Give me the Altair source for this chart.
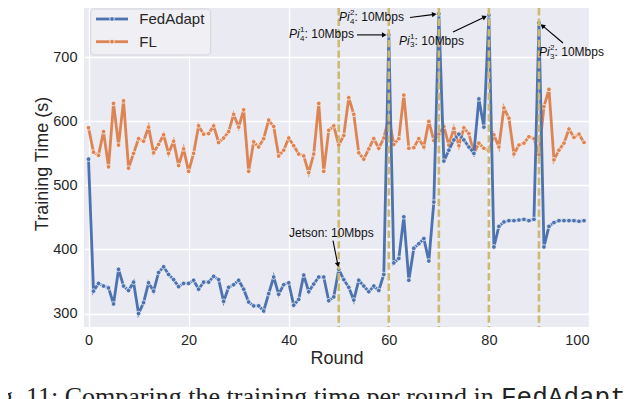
import math
import altair as alt
import pandas as pd

# ---------------- data ----------------
rounds = list(range(100))
fedadapt = [
    541, 335, 347, 343, 340, 315, 369, 343, 336, 349,
    300, 317, 348, 335, 364, 373, 361, 353, 342, 347,
    347, 352, 338, 349, 349, 358, 353, 319, 341, 345,
    352, 338, 318, 312, 312, 304, 331, 357, 330, 345,
    348, 313, 322, 360, 334, 346, 357, 357, 320, 326,
    369, 353, 341, 321, 352, 343, 334, 343, 336, 361,
    735, 379, 386, 451, 352, 402, 409, 417, 382, 474,
    768, 538, 555, 571, 580, 571, 560, 550, 635, 591,
    766, 404, 436, 443, 445, 445, 446, 447, 445, 447,
    754, 404, 436, 442, 445, 445, 445, 445, 444, 445,
]
fl = [
    590, 552, 547, 584, 529, 628, 563, 632, 527, 550,
    573, 569, 591, 551, 564, 579, 550, 569, 531, 557,
    522, 550, 593, 580, 581, 593, 567, 574, 584, 611,
    591, 618, 522, 568, 560, 573, 602, 592, 546, 555,
    574, 562, 549, 546, 520, 549, 628, 522, 586, 593,
    563, 578, 637, 611, 551, 541, 557, 573, 558, 574,
    606, 564, 573, 641, 558, 559, 573, 560, 600, 570,
    580, 592, 563, 589, 562, 590, 581, 550, 566, 558,
    554, 579, 560, 621, 605, 549, 563, 566, 576, 573,
    548, 623, 650, 540, 555, 566, 588, 575, 580, 567,
]
series_names = ["FedAdapt", "FL"]
series_colors = ["#4C72B0", "#DD8452"]
event_rounds = [50, 60, 70, 80, 90]
x_ticks = [0, 20, 40, 60, 80, 100]
y_ticks = [300, 400, 500, 600, 700]

# annotations (text anchors and arrows, in data units)
jetson_text = ["Jetson: 10Mbps"]
jetson_x = [40.06]
jetson_y = [425.8]
pi_sup = ["1", "2", "1", "2"]
pi_sub = ["4", "4", "3", "3"]
pi_x = [40.06, 50.05, 62.04, 90.0]
pi_y = [736.4, 762.2, 725.5, 708.3]
pi_rest = ": 10Mbps"
arrow_from_x = [48.85, 53.65, 64.23, 72.83, 94.8]
arrow_from_y = [414.0, 735.0, 762.2, 739.5, 722.4]
arrow_to_x = [50, 60, 70, 80, 90]
arrow_to_y = [369, 735, 768, 766, 754]

caption_main = "Fig. 11: Comparing the training time per round in"
caption_code = "FedAdapt"

# ---------------- layout ----------------
X_DOM = [-0.9, 100]
Y_DOM = [279, 777]
W, H = 505, 319
FONT = "Liberation Sans"
TXT = "#262626"

px_r = W / (X_DOM[1] - X_DOM[0])
px_v = H / (Y_DOM[1] - Y_DOM[0])

xscale = alt.Scale(domain=X_DOM, nice=False, zero=False)
yscale = alt.Scale(domain=Y_DOM, nice=False, zero=False)
xaxis = alt.Axis(values=x_ticks, title="Round")
yaxis = alt.Axis(values=y_ticks, title="Training Time (s)")


def X(field="round"):
    return alt.X(f"{field}:Q", scale=xscale, axis=xaxis)


def Y(field="value"):
    return alt.Y(f"{field}:Q", scale=yscale, axis=yaxis)


df = pd.DataFrame({
    "round": rounds * 2,
    "value": fedadapt + fl,
    "series": [series_names[0]] * len(rounds) + [series_names[1]] * len(rounds),
})

layers = []
for name, col in [(series_names[1], series_colors[1]), (series_names[0], series_colors[0])]:
    sub = df[df["series"] == name]
    layers.append(alt.Chart(sub).mark_line(color=col, strokeWidth=2.8).encode(x=X(), y=Y()))
    layers.append(alt.Chart(sub).mark_point(filled=True, color=col, size=22, stroke="white",
                                            strokeWidth=0.7, opacity=1).encode(x=X(), y=Y()))

# vertical dashed event lines
ev = pd.DataFrame({"round": event_rounds})
layers.append(alt.Chart(ev).mark_rule(color="#CCB974", strokeWidth=2.6,
                                      strokeDash=[7.4, 3.2]).encode(x=X()))

# arrows
rows = []
for fx, fy, tx, ty in zip(arrow_from_x, arrow_from_y, arrow_to_x, arrow_to_y):
    dxp = (tx - fx) * px_r
    dyp = -(ty - fy) * px_v
    L = math.hypot(dxp, dyp)
    ux, uy = dxp / L, dyp / L
    tip = 2.0
    head = tip + 2.6
    rows.append({
        "round": fx, "value": fy,
        "round2": tx - head * ux / px_r, "value2": ty + head * uy / px_v,
        "hx": tx - head * ux / px_r, "hy": ty + head * uy / px_v,
        "ang": math.degrees(math.atan2(uy, ux)) % 360,
    })
arr = pd.DataFrame(rows)
layers.append(alt.Chart(arr).mark_rule(color="black", strokeWidth=1.1).encode(
    x=X(), y=Y(), x2="round2:Q", y2="value2:Q"))
layers.append(alt.Chart(arr).mark_point(shape="triangle-right", filled=True, color="black",
                                        size=28, opacity=1).encode(
    x=X("hx"), y=Y("hy"), angle=alt.Angle("ang:Q", scale=None)))

# annotation texts
jt = pd.DataFrame({"round": jetson_x, "value": jetson_y, "t": jetson_text})
layers.append(alt.Chart(jt).mark_text(align="left", baseline="middle", font=FONT, fontSize=12,
                                      color="#111111").encode(x=X(), y=Y(), text="t:N"))
pi = pd.DataFrame({"round": pi_x, "value": pi_y, "sup": pi_sup, "sub": pi_sub,
                   "base": ["Pi"] * len(pi_x), "rest": [pi_rest] * len(pi_x)})
layers.append(alt.Chart(pi).mark_text(align="left", baseline="middle", font=FONT, fontSize=12,
                                      fontStyle="italic", color="#111111").encode(
    x=X(), y=Y(), text="base:N"))
layers.append(alt.Chart(pi).mark_text(align="left", baseline="middle", font=FONT, fontSize=8,
                                      dx=11.0, dy=-4, color="#111111").encode(
    x=X(), y=Y(), text="sup:N"))
layers.append(alt.Chart(pi).mark_text(align="left", baseline="middle", font=FONT, fontSize=8,
                                      dx=11.0, dy=4.5, color="#111111").encode(
    x=X(), y=Y(), text="sub:N"))
layers.append(alt.Chart(pi).mark_text(align="left", baseline="middle", font=FONT, fontSize=12,
                                      dx=15.6, color="#111111").encode(
    x=X(), y=Y(), text="rest:N"))

# legend (drawn manually: line + dot + label)
one = pd.DataFrame({"a": [0]})
layers.append(alt.Chart(one).mark_rect(fill="#EFEFF4", stroke="#D3D3DB", strokeWidth=1,
                                       cornerRadius=4).encode(
    x=alt.value(6.7), x2=alt.value(126.7), y=alt.value(1), y2=alt.value(47)))
for i, (name, col) in enumerate(zip(series_names, series_colors)):
    yy = 11 + i * 22.7
    layers.append(alt.Chart(one).mark_rule(color=col, strokeWidth=2.8).encode(
        x=alt.value(12), x2=alt.value(44), y=alt.value(yy)))
    layers.append(alt.Chart(one).mark_point(filled=True, color=col, size=22, stroke="white",
                                            strokeWidth=0.7, opacity=1).encode(
        x=alt.value(28), y=alt.value(yy)))
    layers.append(alt.Chart(pd.DataFrame({"t": [name]})).mark_text(
        align="left", baseline="middle", font=FONT, fontSize=15, color=TXT).encode(
        x=alt.value(55.3), y=alt.value(yy), text="t:N"))

# caption (cut off at the bottom, as in the source figure)
layers.append(alt.Chart(pd.DataFrame({"t": [caption_main]})).mark_text(
    align="left", baseline="alphabetic", font="Liberation Serif", fontSize=26,
    color="#222222").encode(x=alt.value(-105.7), y=alt.value(397), text="t:N"))
layers.append(alt.Chart(pd.DataFrame({"t": [caption_code]})).mark_text(
    align="left", baseline="alphabetic", font="Liberation Mono", fontSize=26,
    color="#222222").encode(x=alt.value(417), y=alt.value(397), text="t:N"))

chart = alt.layer(*layers).properties(
    width=W, height=H,
    autosize=alt.AutoSizeParams(type="none"),
    padding={"left": 76, "top": 0, "right": 40, "bottom": 72},
    background="white",
).configure_view(fill="#EAEAF2", strokeWidth=0).configure_axis(
    grid=True, gridColor="white", gridWidth=1.3, domain=False, ticks=False, tickSize=0,
    labelFont=FONT, labelFontSize=14.5, labelColor=TXT,
    titleFont=FONT, titleFontSize=18, titleFontWeight="normal", titleColor=TXT,
).configure_axisX(labelPadding=6, titleY=36, titleBaseline="alphabetic").configure_axisY(
    labelPadding=7, titleX=-37, titleY=155.5, titleBaseline="alphabetic", titleAngle=270)

chart.save("out.html", embed_options={"renderer": "svg", "actions": False})
